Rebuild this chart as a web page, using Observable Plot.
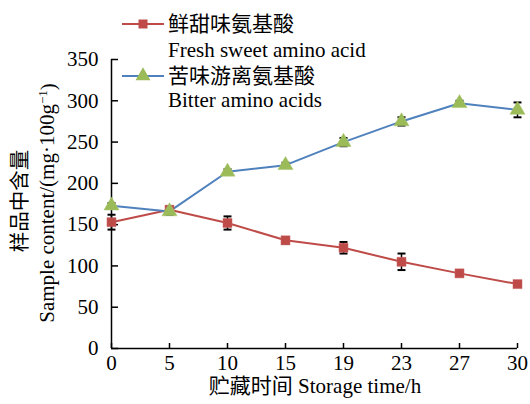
<!DOCTYPE html>
<html><head><meta charset="utf-8">
<script src="https://cdn.jsdelivr.net/npm/d3@7"></script>
<script src="https://cdn.jsdelivr.net/npm/@observablehq/plot@0.6"></script>
<style>body{margin:0;background:#fff}</style>
</head><body><div id="chart"></div>
<script>
const times = ["0","5","10","15","19","23","27","30"];
const fresh = [153,168,152,131,122,105,91,78];
const freshErr = [9,4,8,4,7,10,3,3];
const bitter = [173,166,214,222,250,275,297,289];
const bitterErr = [3,4,3,3,5,5,3,9];
const yTicks = [0,50,100,150,200,250,300,350];
const seriesNames = ["鲜甜味氨基酸","Fresh sweet amino acid","苦味游离氨基酸","Bitter amino acids"];
const xTitle = "贮藏时间 Storage time/h";
const yTitleCn = "样品中含量";

const RED = "#BE4B48", BLUE = "#4F81BD", GREEN = "#9BBB59";
const fr = times.map((t,i)=>({t, v:fresh[i], e:freshErr[i]}));
const bt = times.map((t,i)=>({t, v:bitter[i], e:bitterErr[i]}));
const serif = "'Liberation Serif','Noto Sans CJK SC',serif";
const capSymbol = {draw(ctx, size){ const w = Math.sqrt(size); ctx.moveTo(-w/2,0); ctx.lineTo(w/2,0); }};
const caps = (data) => [
  Plot.dot(data, {x:"t", y:d=>d.v-d.e, symbol:capSymbol, r:4.5, fill:"none", stroke:"black", strokeWidth:2}),
  Plot.dot(data, {x:"t", y:d=>d.v+d.e, symbol:capSymbol, r:4.5, fill:"none", stroke:"black", strokeWidth:2})
];

const svg = Plot.plot({
  width:530, height:404,
  marginLeft:111, marginRight:13, marginTop:59, marginBottom:56,
  style:{fontFamily:serif, fontSize:"21px", color:"black", background:"white", overflow:"visible"},
  x:{type:"point", domain:times, padding:0, label:null},
  y:{domain:[0,350], ticks:yTicks, label:null},
  marks:[
    Plot.axisX({tickSize:0, tickPadding:7, fontSize:21, label:null}),
    Plot.axisY({ticks:yTicks, tickSize:0, tickPadding:13, fontSize:21, label:null}),
    Plot.ruleY(yTicks, {y:d=>d, x1:()=>times[0], x2:()=>times[0], insetRight:-7, stroke:"black", strokeWidth:1.5}),
    Plot.ruleX(times, {x:d=>d, y1:()=>0, y2:()=>0, insetBottom:5, stroke:"black", strokeWidth:1.5}),
    Plot.ruleY([0], {stroke:"black", strokeWidth:1.5}),
    Plot.ruleX([times[0]], {y1:0, y2:350, stroke:"black", strokeWidth:1.5}),
    Plot.ruleX(fr, {x:"t", y1:d=>d.v-d.e, y2:d=>d.v+d.e, stroke:"black", strokeWidth:1.5}),
    ...caps(fr),
    Plot.ruleX(bt, {x:"t", y1:d=>d.v-d.e, y2:d=>d.v+d.e, stroke:"black", strokeWidth:1.5}),
    ...caps(bt),
    Plot.line(fr, {x:"t", y:"v", stroke:RED, strokeWidth:2}),
    Plot.line(bt, {x:"t", y:"v", stroke:BLUE, strokeWidth:2}),
    Plot.dot(fr, {x:"t", y:"v", symbol:"square", r:5.1, fill:RED, stroke:"#C86462", strokeWidth:0.5}),
    Plot.dot(bt, {x:"t", y:"v", symbol:"triangle", r:5.6, fill:GREEN, stroke:"#A9C46E", strokeWidth:0.5})
  ]
});
document.getElementById("chart").appendChild(svg);

const s = d3.select(svg);
const lg = s.append("g").attr("text-anchor","start");
lg.append("line").attr("x1",122).attr("x2",164).attr("y1",24).attr("y2",24).attr("stroke",RED).attr("stroke-width",2);
lg.append("path").attr("d", d3.symbol(d3.symbolSquare, 81)()).attr("transform","translate(143,24)").attr("fill",RED);
lg.append("line").attr("x1",122).attr("x2",164).attr("y1",76).attr("y2",76).attr("stroke",BLUE).attr("stroke-width",2);
lg.append("path").attr("d", d3.symbol(d3.symbolTriangle, 97)()).attr("transform","translate(143,76)").attr("fill",GREEN);
const ly = [24,50,76,100];
seriesNames.forEach((t,i)=>{
  lg.append("text").attr("x",168).attr("y",ly[i]).attr("dy","0.35em").attr("text-anchor","start")
    .attr("font-family",serif).attr("font-size",21).attr("fill","black").text(t);
});
s.append("text").attr("x",315).attr("y",386).attr("dy","0.35em").attr("text-anchor","middle")
  .attr("font-family",serif).attr("font-size",21).attr("fill","black").text(xTitle);
s.append("text").attr("transform","translate(20,201) rotate(-90)").attr("dy","0.35em").attr("text-anchor","middle")
  .attr("font-family",serif).attr("font-size",20.5).attr("fill","black").text(yTitleCn);
const yt = s.append("text").attr("transform","translate(47,203) rotate(-90)").attr("dy","0.35em").attr("text-anchor","middle")
  .attr("font-family",serif).attr("font-size",21).attr("fill","black");
yt.append("tspan").text("Sample content/(mg·100g");
yt.append("tspan").attr("font-size",13).attr("dy","-0.6em").text("−1");
yt.append("tspan").attr("dy","0.4em").text(")");
</script></body></html>
